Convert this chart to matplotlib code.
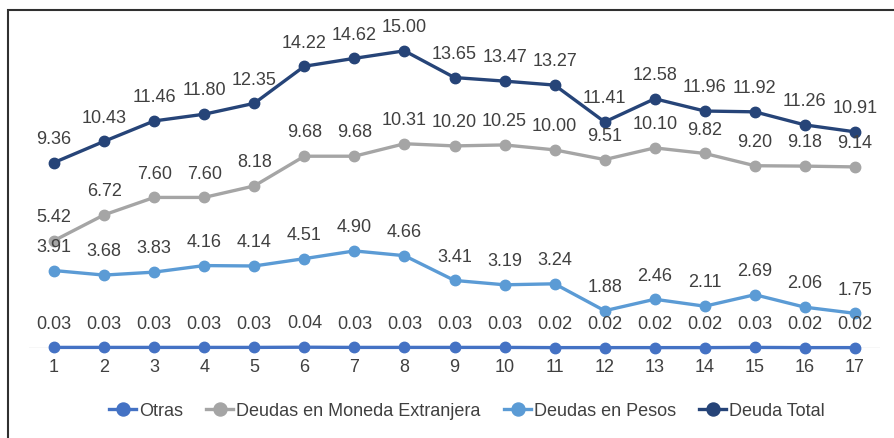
import numpy as np
import matplotlib
matplotlib.use('Agg')
import matplotlib.pyplot as plt
from matplotlib.patches import Rectangle

plt.rcParams['font.family'] = ['Liberation Sans', 'DejaVu Sans']

periodos = list(range(1, 18))
otras = [0.03, 0.03, 0.03, 0.03, 0.03, 0.04, 0.03, 0.03, 0.03, 0.03, 0.02, 0.02, 0.02, 0.02, 0.03, 0.02, 0.02]
moneda_ext = [5.42, 6.72, 7.60, 7.60, 8.18, 9.68, 9.68, 10.31, 10.20, 10.25, 10.00, 9.51, 10.10, 9.82, 9.20, 9.18, 9.14]
pesos = [3.91, 3.68, 3.83, 4.16, 4.14, 4.51, 4.90, 4.66, 3.41, 3.19, 3.24, 1.88, 2.46, 2.11, 2.69, 2.06, 1.75]
total = [9.36, 10.43, 11.46, 11.80, 12.35, 14.22, 14.62, 15.00, 13.65, 13.47, 13.27, 11.41, 12.58, 11.96, 11.92, 11.26, 10.91]

series = [
    ('Otras', otras, '#4472C4'),
    ('Deudas en Moneda Extranjera', moneda_ext, '#A5A5A5'),
    ('Deudas en Pesos', pesos, '#5B9BD5'),
    ('Deuda Total', total, '#264478'),
]
txt = '#404040'

fig = plt.figure(figsize=(8.94, 4.38), dpi=100)
ax = fig.add_axes([29/894, 90/438, 851/894, 317/438])

for nombre, vals, col in series:
    ax.plot(periodos, vals, color=col, lw=2.4, marker='o', ms=7.5, label=nombre,
            clip_on=False, zorder=3)
    for x, v in zip(periodos, vals):
        ax.annotate('%.2f' % v, (x, v), xytext=(0, 13.5), textcoords='offset points',
                    ha='center', va='baseline', fontsize=13, color=txt, zorder=5)

ax.axhline(0, color='#D9D9D9', lw=1, zorder=0)
ax.set_xlim(0.5, 17.5)
ax.set_ylim(0, 16)
ax.set_xticks(periodos)
ax.tick_params(axis='x', length=0, labelsize=13, labelcolor=txt, pad=8)
ax.set_yticks([])
for s in ax.spines.values():
    s.set_visible(False)

fig.legend(loc='center', bbox_to_anchor=(0.5 + 20/894, 1 - 411/438), ncol=4, frameon=False,
           fontsize=13, labelcolor=txt, handlelength=1.5, handletextpad=0.15, columnspacing=1.3,
           markerscale=1.25)

fig.patches.append(Rectangle((8/894, -0.1), 1.2, 1 - 10/438 + 0.1, transform=fig.transFigure,
                             fill=False, edgecolor='#303030', lw=1.5))

fig.savefig('out.png', dpi=100)
